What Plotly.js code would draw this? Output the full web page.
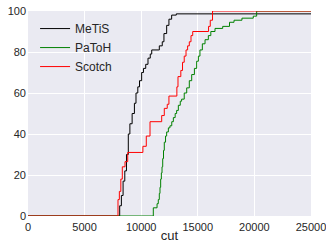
<!DOCTYPE html>
<html>
<head>
<meta charset="utf-8">
<script src="https://cdn.plot.ly/plotly-3.0.1.min.js"></script>
<style>html,body{margin:0;padding:0;background:#fff;}#chart{width:326px;height:243px;}</style>
</head>
<body>
<div id="chart"></div>
<script>
// Series names
const seriesNames = ["MeTiS", "PaToH", "Scotch"];
const seriesColors = ["#000000", "#008000", "#ff0000"];

// MeTiS: step vertices (cut, % instances)
const metisCut = [0, 7950, 8100, 8250, 8400, 8550, 8700, 8860, 9000, 9200, 9400, 9540, 9700, 9850, 10040, 10200, 10400, 10600, 10800, 10930, 11500, 11600, 11860, 12010, 12250, 12450, 12690, 13100, 25000];
const metisPct = [0, 0, 5, 10, 17, 22, 30, 40, 45, 50, 55, 60, 63, 66, 70, 72, 74, 77, 79, 81, 81, 83, 85, 89, 93, 96, 98, 98.6, 98.6];

// PaToH
const patohCut = [0, 11070, 11400, 11510, 11600, 11660, 11720, 11780, 11840, 11900, 11970, 12040, 12150, 12250, 12400, 12540, 12700, 12840, 13000, 13130, 13280, 13450, 13570, 13800, 14020, 14250, 14460, 14700, 14900, 15050, 15190, 15400, 15640, 15930, 16150, 16520, 17200, 17800, 18200, 18900, 19900, 20200, 25000];
const patohPct = [0, 4, 6, 8, 11, 14, 18, 21, 24, 28, 32, 36, 39, 41, 43, 44, 46, 48, 50, 51.5, 54, 56, 57, 60, 62.5, 66, 69, 72, 75.5, 78, 81, 84, 86, 88, 90, 91.5, 92.5, 94.5, 95.5, 96.5, 97.5, 100, 100];

// Scotch
const scotchCut = [0, 7830, 7950, 8070, 8200, 8330, 8570, 8810, 10150, 10450, 10780, 11810, 12040, 12300, 12450, 13150, 13250, 13500, 13650, 13800, 13960, 14100, 14250, 14400, 14550, 15950, 16100, 16300, 25000];
const scotchPct = [0, 0, 8, 12, 18, 24, 26.5, 31, 34, 39, 46, 49, 52.5, 54.5, 58.5, 63, 68, 71, 75, 78, 81, 83, 85, 88, 90, 92.5, 95.5, 100, 100];

const xTicks = [0, 5000, 10000, 15000, 20000, 25000];
const yTicks = [0, 20, 40, 60, 80, 100];

const xs = [metisCut, patohCut, scotchCut];
const ys = [metisPct, patohPct, scotchPct];

const traces = seriesNames.map((n, i) => ({
  x: xs[i], y: ys[i], name: n, type: "scatter", mode: "lines",
  line: {color: seriesColors[i], width: 1, shape: "hv"}
}));

const font = "Liberation Sans, Arial, sans-serif";
const layout = {
  width: 326, height: 243,
  margin: {l: 28, r: 15, t: 11, b: 27, pad: 0},
  paper_bgcolor: "#ffffff",
  plot_bgcolor: "#eaeaf2",
  font: {family: font, size: 11, color: "#262626"},
  showlegend: true,
  legend: {x: 0.025, y: 0.985, xanchor: "left", yanchor: "top", bgcolor: "rgba(0,0,0,0)",
           font: {family: font, size: 12, color: "#262626"}, tracegroupgap: 0, itemwidth: 30},
  xaxis: {range: [0, 25000], tickvals: xTicks, ticktext: xTicks.map(String), showgrid: true,
          gridcolor: "#ffffff", gridwidth: 1, zeroline: false, showline: false, ticks: "",
          ticklabeloverflow: "allow", ticklabelstandoff: 3,
          tickfont: {family: font, size: 11, color: "#262626"},
          title: {text: "cut", font: {family: font, size: 13, color: "#262626"}, standoff: 0}},
  yaxis: {range: [0, 100], tickvals: yTicks, ticktext: yTicks.map(String), showgrid: true,
          gridcolor: "#ffffff", gridwidth: 1, zeroline: false, showline: false, ticks: "",
          ticklabelstandoff: 1,
          tickfont: {family: font, size: 11, color: "#262626"}}
};

Plotly.newPlot("chart", traces, layout, {displayModeBar: false, staticPlot: true});
</script>
</body>
</html>
